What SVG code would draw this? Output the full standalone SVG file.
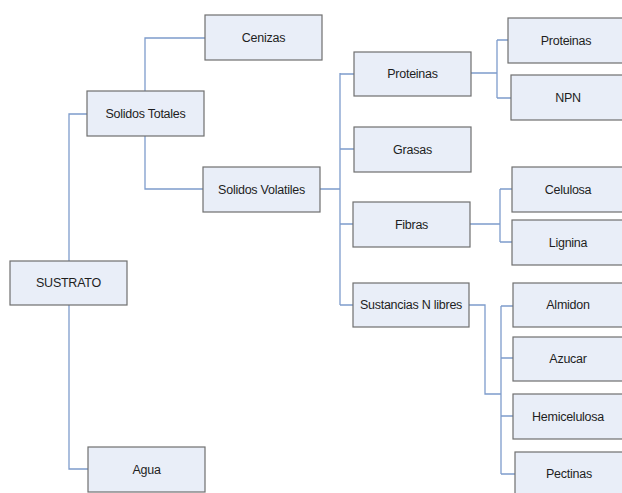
<svg xmlns="http://www.w3.org/2000/svg" width="622" height="493" viewBox="0 0 622 493">
<style>
.box rect{fill:#e9eef8;stroke:#6f6f6f;stroke-width:1.2}
.box text{font-family:"Liberation Sans",Arial,sans-serif;font-size:12.5px;letter-spacing:-0.25px;fill:#1e1e1e;text-anchor:middle;dominant-baseline:central}
.conn path{fill:none;stroke:#7e9ccc;stroke-width:1.3}
</style>
<rect width="622" height="493" fill="#ffffff"/>
<g class="conn">
<path d="M87 114H69V261M69 305V469H88"/>
<path d="M145 91V38H205M145 136V189H203"/>
<path d="M320 189H340M340 73V305M340 74H354M340 149H354M340 224H353M340 305H353"/>
<path d="M471 73H497M497 40V98M497 40H508M497 98H511"/>
<path d="M470 224H500M500 189V242M500 189H512M500 242H512"/>
<path d="M469 305H485V394H501M501 306V474M501 306H513M501 358H513M501 416H513M501 474H515"/>
</g>
<g id="sustrato" class="box"><rect x="10" y="261" width="117" height="44"/><text x="68.5" y="283">SUSTRATO</text></g>
<g id="solidos-totales" class="box"><rect x="87" y="91" width="117" height="45"/><text x="145.5" y="113.5">Solidos Totales</text></g>
<g id="agua" class="box"><rect x="88" y="447" width="117" height="45"/><text x="146.5" y="469.5">Agua</text></g>
<g id="cenizas" class="box"><rect x="205" y="15" width="117" height="45"/><text x="263.5" y="37.5">Cenizas</text></g>
<g id="solidos-volatiles" class="box"><rect x="203" y="167" width="117" height="45"/><text x="261.5" y="189.5">Solidos Volatiles</text></g>
<g id="proteinas" class="box"><rect x="354" y="52" width="117" height="44"/><text x="412.5" y="74">Proteinas</text></g>
<g id="grasas" class="box"><rect x="354" y="127" width="117" height="45"/><text x="412.5" y="149.5">Grasas</text></g>
<g id="fibras" class="box"><rect x="353" y="202" width="117" height="45"/><text x="411.5" y="224.5">Fibras</text></g>
<g id="sustancias" class="box"><rect x="353" y="283" width="116" height="44"/><text x="411" y="305">Sustancias N libres</text></g>
<g id="proteinas2" class="box"><rect x="508" y="18" width="116" height="45"/><text x="566" y="40.5">Proteinas</text></g>
<g id="npn" class="box"><rect x="511" y="75" width="113" height="45"/><text x="568" y="97.5">NPN</text></g>
<g id="celulosa" class="box"><rect x="512" y="167" width="112" height="45"/><text x="568" y="189.5">Celulosa</text></g>
<g id="lignina" class="box"><rect x="512" y="220" width="112" height="45"/><text x="568" y="242.5">Lignina</text></g>
<g id="almidon" class="box"><rect x="513" y="283" width="111" height="44"/><text x="568" y="305">Almidon</text></g>
<g id="azucar" class="box"><rect x="513" y="337" width="111" height="44"/><text x="568" y="359">Azucar</text></g>
<g id="hemicelulosa" class="box"><rect x="513" y="394" width="111" height="45"/><text x="568" y="416.5">Hemicelulosa</text></g>
<g id="pectinas" class="box"><rect x="515" y="452" width="109" height="45"/><text x="569" y="474">Pectinas</text></g>
</svg>
